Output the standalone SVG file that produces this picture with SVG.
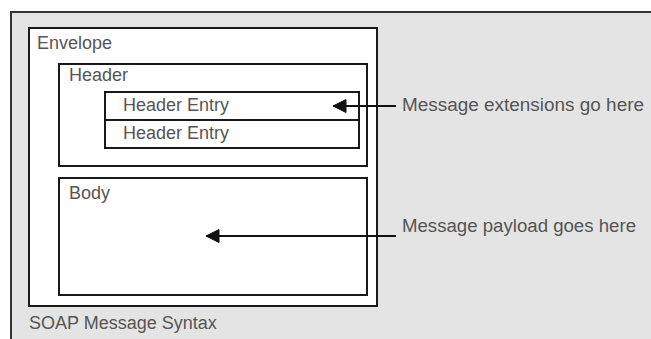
<svg xmlns="http://www.w3.org/2000/svg" width="651" height="339" viewBox="0 0 651 339">
<style>
.box{fill:#ffffff;stroke:#1a1a1a;stroke-width:2}
.lbl{font-family:"Liberation Sans",Arial,sans-serif;font-size:18px;fill:#555555}
.conn{stroke:#111111;stroke-width:2;fill:none}
</style>
<defs>
<marker id="ah" markerWidth="15" markerHeight="15" refX="14" refY="7.5" orient="auto" markerUnits="userSpaceOnUse" viewBox="0 0 15 15">
<path d="M14,7.5 L1,1 L1,14 Z" fill="#111111" stroke="#111111" stroke-width="1" stroke-linejoin="round"/>
</marker>
</defs>
<rect x="0" y="0" width="651" height="339" fill="#ffffff"/>
<g id="frame">
<rect x="11" y="12" width="650" height="340" fill="#e4e4e4" stroke="#333333" stroke-width="2"/>
<text class="lbl" x="29" y="329">SOAP Message Syntax</text>
</g>
<g id="envelope">
<rect class="box" x="29" y="28" width="348" height="278"/>
<text class="lbl" x="37" y="49">Envelope</text>
</g>
<g id="header">
<rect class="box" x="59" y="64" width="308" height="102"/>
<text class="lbl" x="69" y="81">Header</text>
</g>
<g id="header-entry-1">
<rect class="box" x="105" y="92" width="254" height="28"/>
<text class="lbl" x="123" y="111">Header Entry</text>
</g>
<g id="header-entry-2">
<rect class="box" x="105" y="120" width="254" height="28"/>
<text class="lbl" x="123" y="139">Header Entry</text>
</g>
<g id="body">
<rect class="box" x="59" y="178" width="308" height="117"/>
<text class="lbl" x="69" y="199">Body</text>
</g>
<g id="connectors">
<line class="conn" x1="396" y1="106" x2="333" y2="106" marker-end="url(#ah)"/>
<line class="conn" x1="396" y1="236" x2="206" y2="236" marker-end="url(#ah)"/>
</g>
<g id="note-extensions">
<text class="lbl" x="402" y="111" textLength="242" lengthAdjust="spacingAndGlyphs">Message extensions go here</text>
</g>
<g id="note-payload">
<text class="lbl" x="402" y="232" textLength="234" lengthAdjust="spacingAndGlyphs">Message payload goes here</text>
</g>
</svg>
